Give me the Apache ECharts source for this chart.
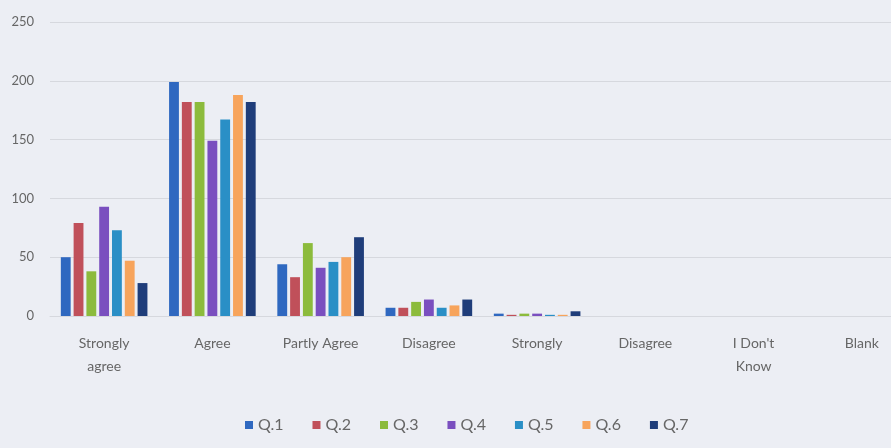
<!DOCTYPE html>
<html>
<head>
<meta charset="utf-8">
<script src="https://cdn.jsdelivr.net/npm/echarts@6/dist/echarts.min.js"></script>
<style>
html,body{margin:0;padding:0;background:#eceef4;}
#c{width:891px;height:448px;}
</style>
</head>
<body>
<div id="c"></div>
<script>
var categories = ["Strongly\nagree", "Agree", "Partly Agree", "Disagree", "Strongly", "Disagree", "I Don't\nKnow", "Blank"];
var seriesNames = ["Q.1", "Q.2", "Q.3", "Q.4", "Q.5", "Q.6", "Q.7"];
var q1 = [50, 199, 44, 7, 2, 0, 0, 0];
var q2 = [79, 182, 33, 7, 1, 0, 0, 0];
var q3 = [38, 182, 62, 12, 2, 0, 0, 0];
var q4 = [93, 149, 41, 14, 2, 0, 0, 0];
var q5 = [73, 167, 46, 7, 1, 0, 0, 0];
var q6 = [47, 188, 50, 9, 1, 0, 0, 0];
var q7 = [28, 182, 67, 14, 4, 0, 0, 0];
var seriesValues = [q1, q2, q3, q4, q5, q6, q7];
var colors = ["#2f68c0", "#c0505a", "#8cbb3c", "#7a4fbf", "#2a8fc6", "#f7a45c", "#1f3d7a"];
var yTicks = { min: 0, max: 250, interval: 50 };

var chart = echarts.init(document.getElementById('c'));
var font = "Lato, 'Open Sans', sans-serif";
chart.setOption({
  backgroundColor: '#eceef4',
  animation: false,
  color: colors,
  textStyle: { fontFamily: font },
  grid: { left: 50, width: 866, top: 22, bottom: 132, containLabel: false, outerBoundsMode: 'none' },
  legend: {
    bottom: 10,
    left: 240,
    itemWidth: 8,
    itemHeight: 8,
    itemGap: 29,
    icon: 'rect',
    textStyle: { color: '#666', fontSize: 16, fontFamily: font },
    data: seriesNames
  },
  xAxis: {
    type: 'category',
    data: categories,
    axisTick: { show: false },
    axisLine: { show: true, lineStyle: { color: '#d6d8de' } },
    axisLabel: { color: '#666', fontSize: 14, margin: 16, lineHeight: 23, interval: 0, fontFamily: font }
  },
  yAxis: {
    type: 'value',
    min: yTicks.min,
    max: yTicks.max,
    interval: yTicks.interval,
    axisLine: { show: false },
    axisTick: { show: false },
    axisLabel: { color: '#666', fontSize: 13, margin: 16, fontFamily: font },
    splitLine: { lineStyle: { color: '#d6d8de' } }
  },
  series: seriesNames.map(function (n, i) {
    return {
      name: n,
      type: 'bar',
      data: seriesValues[i],
      barGap: '30%',
      barCategoryGap: '20%'
    };
  })
});
</script>
</body>
</html>
